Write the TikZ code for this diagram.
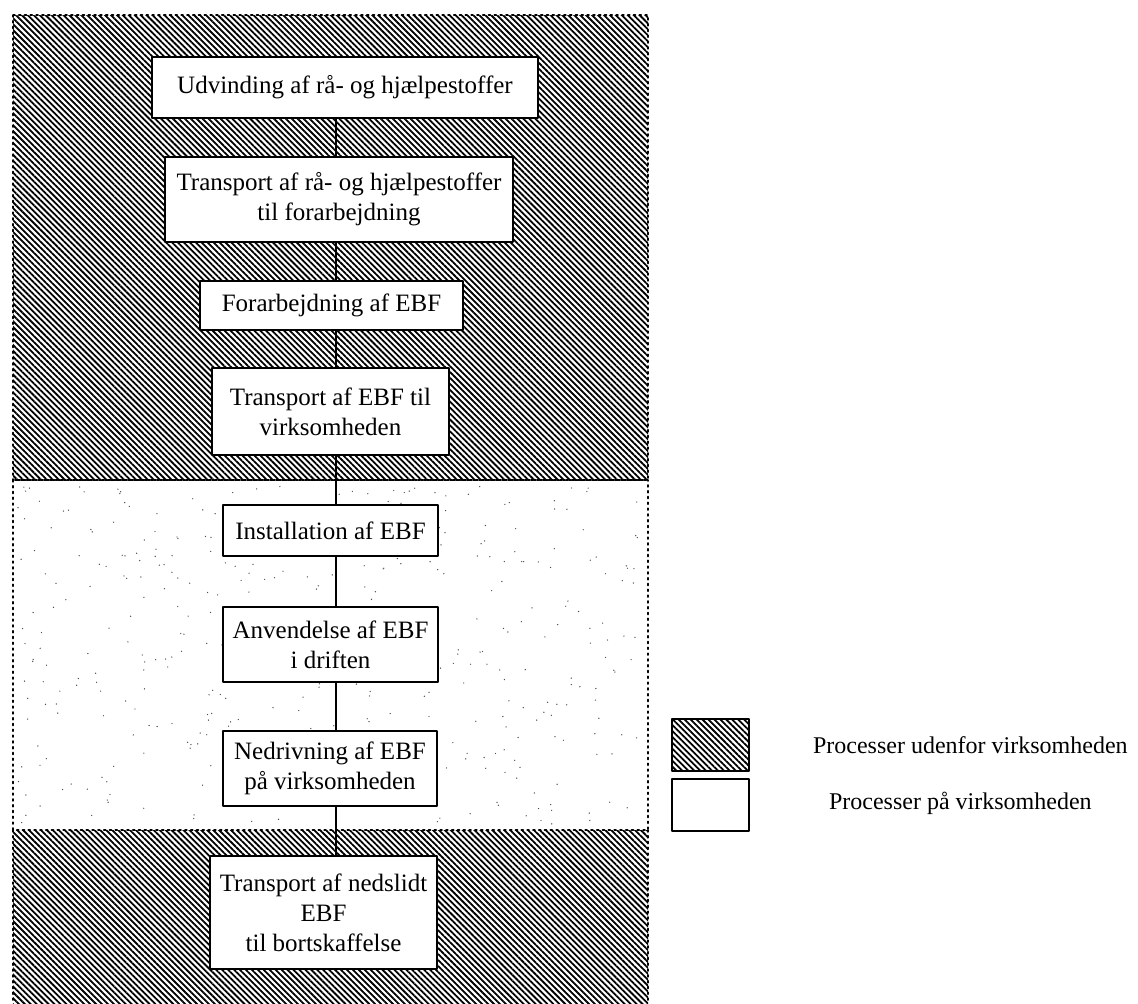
\documentclass[tikz,border=0pt]{standalone}
\usepackage{fontspec}
\setmainfont{Liberation Serif}
\usetikzlibrary{patterns.meta}
\begin{document}
\begin{tikzpicture}[x=0.5pt, y=-0.5pt, line join=round, line cap=round,
	hatch/.style={pattern={Lines[angle=-45,distance=2.1pt,line width=0.9pt]}},
	box/.style={draw, line width=1pt, fill=white, align=center, inner sep=2pt,
		font=\fontsize{12.5pt}{15pt}\selectfont},
	link/.style={line width=0.8pt},
	legtext/.style={anchor=west, font=\fontsize{12pt}{14pt}\selectfont}]
	\useasboundingbox (0,0) rectangle (1138,1003);
	% zones
	\fill[hatch] (13,15) rectangle (648,480);
	\fill[hatch] (13,830) rectangle (648,1003);
	\pgfmathsetseed{11}
	\foreach \i in {1,...,420}{
		\pgfmathsetmacro\px{18+rnd*625}
		\pgfmathsetmacro\py{486+rnd*338}
		\fill[black!70] (\px,\py) circle (0.7);
	}
	\draw[dotted, line width=0.9pt] (13,15) rectangle (648,480);
	\draw[dotted, line width=0.9pt] (13,480) rectangle (648,830);
	\draw[dotted, line width=0.9pt] (13,830) -- (13,1003) (648,830) -- (648,1003);
	% process chain
	\coordinate (axis) at (336,0);
	\node[box, minimum width=193pt, minimum height=30.5pt] (b1) at (345,87.5) {Udvinding af rå- og hjælpestoffer};
	\node[box, minimum width=174pt, minimum height=42.5pt] (b2) at (339,199.5) {Transport af rå- og hjælpestoffer\\til forarbejdning};
	\node[box, minimum width=131.5pt, minimum height=24.5pt] (b3) at (331.5,305.5) {Forarbejdning af EBF};
	\node[box, minimum width=118.5pt, minimum height=43.5pt] (b4) at (330.5,411.5) {Transport af EBF til\\virksomheden};
	\node[box, minimum width=107.5pt, minimum height=25.5pt] (b5) at (330.5,530.5) {Installation af EBF};
	\node[box, minimum width=107.5pt, minimum height=37.5pt] (b6) at (330.5,644.5) {Anvendelse af EBF\\i driften};
	\node[box, minimum width=107pt, minimum height=37.5pt] (b7) at (330,768.5) {Nedrivning af EBF\\på virksomheden};
	\node[box, minimum width=113.5pt, minimum height=56.5pt] (b8) at (323.5,912.5) {Transport af nedslidt\\EBF\\til bortskaffelse};
	\foreach \a/\b in {b1/b2, b2/b3, b3/b4, b4/b5, b5/b6, b6/b7, b7/b8}
		\draw[link] (\a.south -| axis) -- (\b.north -| axis);
	% legend
	\filldraw[hatch, line width=1pt] (672,719) rectangle (749,771);
	\draw[line width=1pt] (672,779) rectangle (749,831);
	\node[legtext] (l1) at (806,745) {Processer udenfor virksomheden};
	\node[legtext] (l2) at (822,803) {Processer på virksomheden};
\end{tikzpicture}
\end{document}
